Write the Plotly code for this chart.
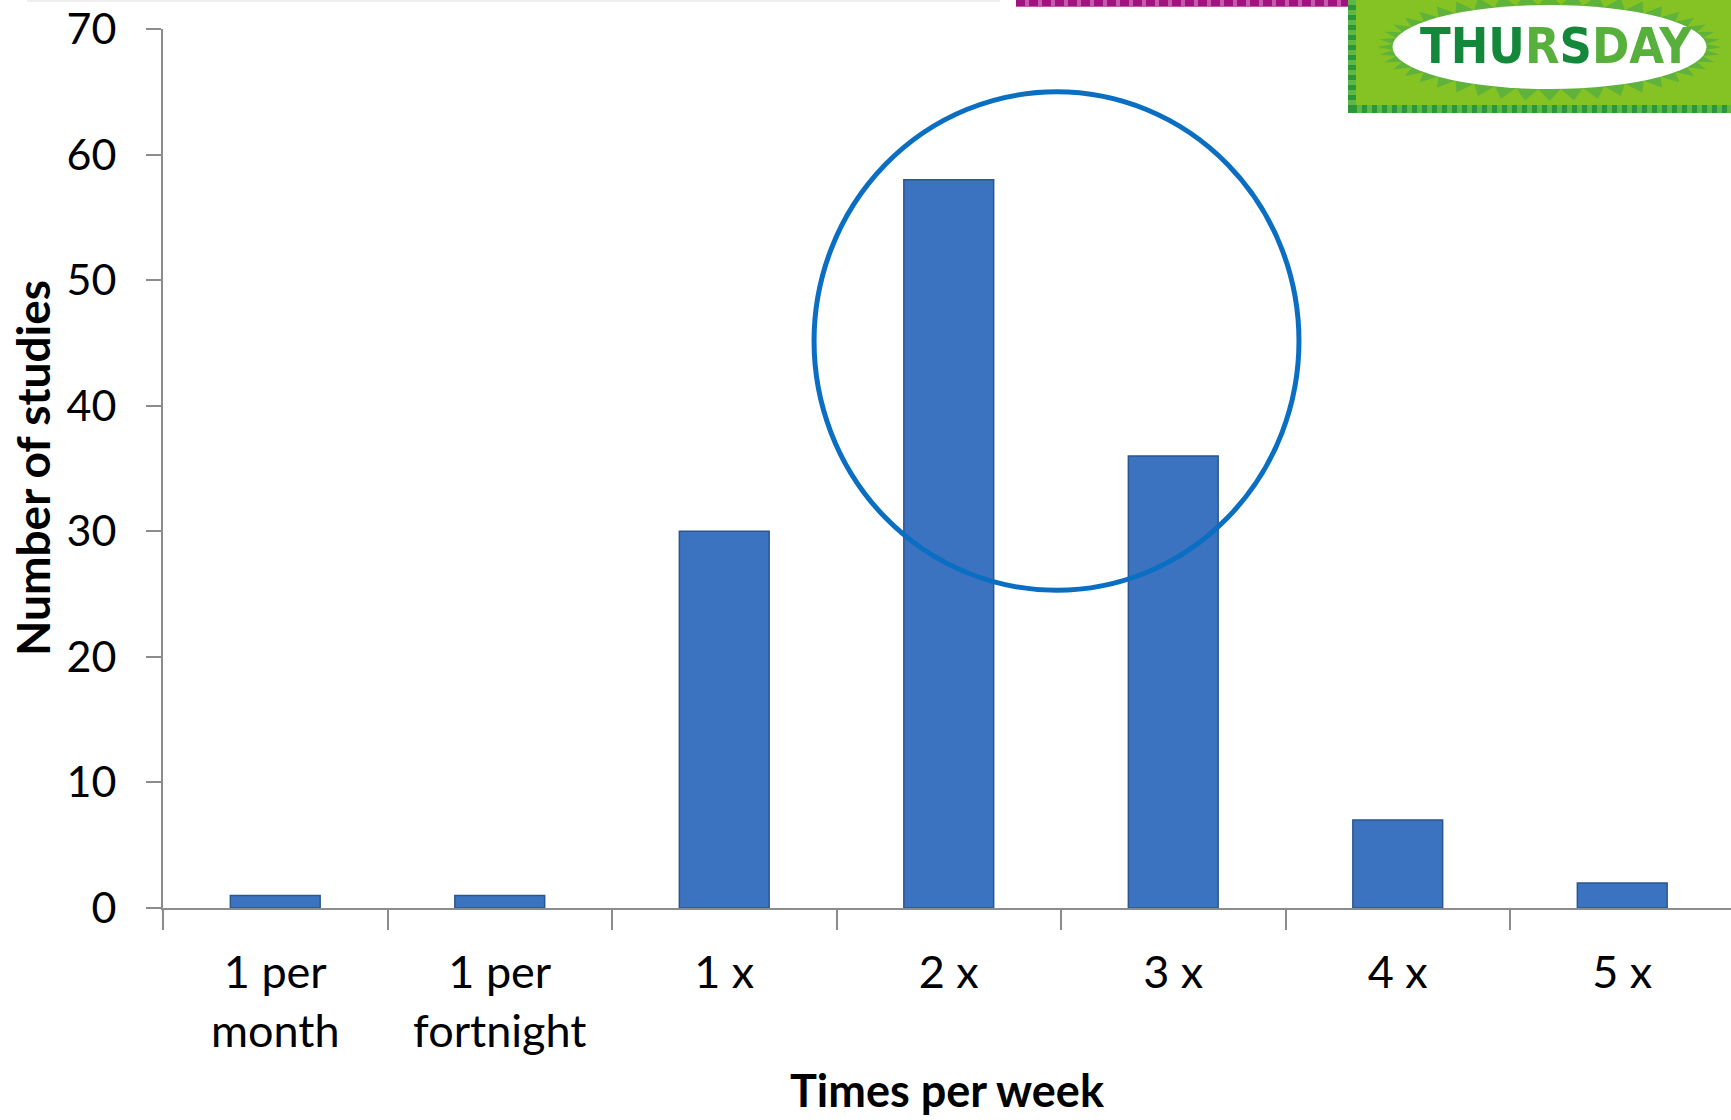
import numpy as np
import plotly.graph_objects as go

# Exercise frequency across studies
categories = ["1 per<br>month", "1 per<br>fortnight", "1 x", "2 x", "3 x", "4 x", "5 x"]
studies = [1, 1, 30, 58, 36, 7, 2]
y_ticks = [0, 10, 20, 30, 40, 50, 60, 70]

W, H = 1731, 1120
ML, MR, MT, MB = 163, 0, 29, 212
PW, PH = W - ML - MR, H - MT - MB
CAT_PX = 224.5  # pixel width of one category slot


def px(x):
    """pixel x -> paper x"""
    return (x - ML) / PW


def py(y):
    """pixel y -> paper y"""
    return (H - MB - y) / PH


FONT = "Lato, 'Open Sans', sans-serif"

fig = go.Figure()
fig.add_trace(go.Bar(
    x=categories, y=studies,
    marker=dict(color="#3c73c0", line=dict(color="#2a5690", width=1.5)),
    width=0.40,
    hoverinfo="x+y",
))

shapes = []

# highlight ring around the most common frequencies
shapes.append(dict(type="circle", xref="x", yref="y",
                   x0=2.40, x1=4.56, y0=25.3, y1=65.0,
                   line=dict(color="#0a6fc2", width=5), layer="above"))

# magenta strip along the top
shapes.append(dict(type="rect", xref="paper", yref="paper",
                   x0=px(1016), x1=px(1348), y0=py(7), y1=py(-3),
                   fillcolor="#c45aaa", line=dict(width=0), layer="above"))
shapes.append(dict(type="line", xref="paper", yref="paper",
                   x0=px(1016), x1=px(1348), y0=py(3), y1=py(3),
                   line=dict(color="#a0127f", width=6, dash="9px,4px"), layer="above"))

# faint rule at the very top left
shapes.append(dict(type="line", xref="paper", yref="paper",
                   x0=px(27), x1=px(1000), y0=py(1), y1=py(1),
                   line=dict(color="#eeeeee", width=2), layer="above"))

# green weekday badge
shapes.append(dict(type="rect", xref="paper", yref="paper",
                   x0=px(1352), x1=px(1745), y0=py(109), y1=py(-10),
                   fillcolor="#85c325", line=dict(color="#5db845", width=8), layer="above"))
shapes.append(dict(type="rect", xref="paper", yref="paper",
                   x0=px(1352), x1=px(1745), y0=py(109), y1=py(-10),
                   fillcolor="rgba(0,0,0,0)", line=dict(color="#2b963a", width=8, dash="5px,5px"),
                   layer="above"))

# starburst behind the white oval
cx, cy, a, b = 1549.5, 47.0, 157.0, 42.0
n_spikes = 44
pts = []
for k in range(n_spikes * 2):
    t = np.pi * k / n_spikes
    grow = 15 if k % 2 == 0 else 0
    pts.append((cx + (a + grow) * np.cos(t), cy + (b + grow * 0.8) * np.sin(t)))
path = "M " + " L ".join(f"{px(x):.5f},{py(y):.5f}" for x, y in pts) + " Z"
shapes.append(dict(type="path", xref="paper", yref="paper", path=path,
                   fillcolor="#5fb33b", line=dict(width=0), layer="above"))
shapes.append(dict(type="circle", xref="paper", yref="paper",
                   x0=px(cx - a), x1=px(cx + a), y0=py(cy + b), y1=py(cy - b),
                   fillcolor="#ffffff", line=dict(width=0), layer="above"))

dark, light = "#13883a", "#58b03c"
word = "THURSDAY"
shade = [dark, dark, dark, light, dark, light, light, light]
badge_text = "".join(f'<span style="color:{c}">{ch}</span>' for ch, c in zip(word, shade))

annotations = [
    dict(text=badge_text, xref="paper", yref="paper", x=px(1556), y=py(46),
         xanchor="center", yanchor="middle", showarrow=False,
         font=dict(family="'Liberation Sans Narrow', 'DejaVu Sans Condensed', sans-serif",
                   size=50, color=dark, weight="bold")),
    dict(text="<b>Number of studies</b>", xref="paper", yref="paper", x=0, y=py(468),
         xshift=32 - ML, xanchor="center", yanchor="middle", textangle=-90, showarrow=False,
         font=dict(family=FONT, size=46, color="#000000")),
    dict(text="<b>Times per week</b>", xref="paper", yref="paper", x=px(947), y=0,
         yshift=-(1090 - (H - MB)), xanchor="center", yanchor="middle", showarrow=False,
         font=dict(family=FONT, size=45, color="#000000")),
]

fig.update_layout(
    width=W, height=H,
    margin=dict(l=ML, r=MR, t=MT, b=MB),
    paper_bgcolor="#ffffff", plot_bgcolor="#ffffff",
    showlegend=False,
    shapes=shapes,
    annotations=annotations,
    font=dict(family=FONT, color="#000000"),
)
fig.update_xaxes(
    type="category", range=[-0.5, -0.5 + PW / CAT_PX],
    showline=True, linecolor="#8c8c8c", linewidth=2,
    ticks="outside", tickson="boundaries", ticklen=20, tickwidth=2, tickcolor="#8c8c8c",
    tickfont=dict(family=FONT, size=45, color="#000000"),
    ticklabelstandoff=24,
    showgrid=False, zeroline=False,
)
fig.update_yaxes(
    range=[0, 70], tickvals=y_ticks,
    showline=True, linecolor="#8c8c8c", linewidth=2,
    ticks="outside", ticklen=15, tickwidth=2, tickcolor="#8c8c8c",
    tickfont=dict(family=FONT, size=43, color="#000000"),
    ticklabelstandoff=21,
    showgrid=False, zeroline=False,
)

fig.write_html("out.html")
